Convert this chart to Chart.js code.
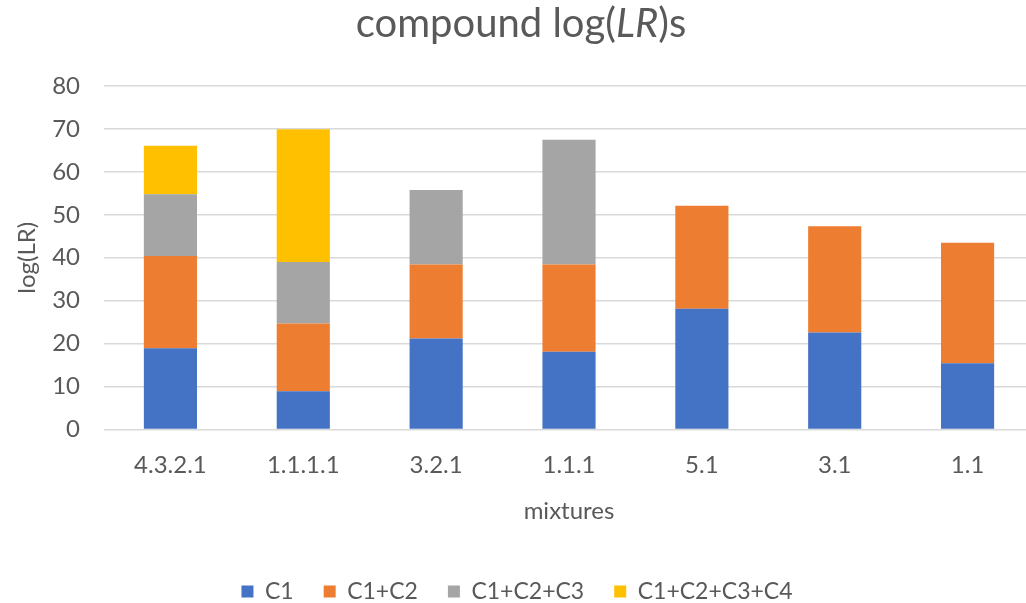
<!DOCTYPE html>
<html>
<head>
<meta charset="utf-8">
<script src="https://cdn.jsdelivr.net/npm/chart.js@4.4.1/dist/chart.umd.min.js"></script>
<style>
  html, body { margin: 0; padding: 0; background: #fff; overflow: hidden; }
  #wrap { position: relative; width: 1042px; height: 613px; }
  #title {
    position: absolute; left: 0; top: 2px; width: 1042px;
    text-align: center; font-family: Lato, sans-serif; font-size: 40px;
    line-height: 1; color: #595959; z-index: 2;
  }
  canvas { position: absolute; left: 0; top: 0; }
</style>
</head>
<body>
<div id="wrap">
  <div id="title">compound log(<i>LR</i>)s</div>
  <canvas id="chart" width="1042" height="613"></canvas>
</div>
<script>
// Mixture labels along the x axis
const mixtures = ['4.3.2.1', '1.1.1.1', '3.2.1', '1.1.1', '5.1', '3.1', '1.1'];

// Stacked segment heights: each step adds the next compound's contribution
const segC1   = [18.9,  8.9, 21.2, 18.1, 28.1, 22.6, 15.4];
const segC2   = [21.5, 15.8, 17.2, 20.3, 24.0, 24.7, 28.1];
const segC3   = [14.4, 14.3, 17.4, 29.1, null, null, null];
const segC4   = [11.3, 30.9, null, null, null, null, null];

const seriesNames = ['C1', 'C1+C2', 'C1+C2+C3', 'C1+C2+C3+C4'];
const seriesColors = ['#4472C4', '#ED7D31', '#A5A5A5', '#FFC000'];

// y-axis range and step
const yMin = 0, yMax = 80, yStep = 10;

const textColor = '#595959';
const fontFamily = 'Lato, sans-serif';

const segments = [segC1, segC2, segC3, segC4];
const datasets = segments.map((vals, i) => ({
  label: seriesNames[i],
  data: vals,
  backgroundColor: seriesColors[i],
  borderWidth: 0,
  categoryPercentage: 0.4,
  barPercentage: 1.0,
  stack: 'total'
}));

new Chart(document.getElementById('chart'), {
  type: 'bar',
  data: { labels: mixtures, datasets },
  options: {
    responsive: false,
    animation: false,
    layout: { padding: { top: 86, right: 8, bottom: 0, left: 0 } },
    plugins: {
      title: { display: false },
      tooltip: { enabled: false },
      legend: {
        position: 'bottom',
        labels: {
          boxWidth: 12, boxHeight: 12, padding: 30,
          color: textColor,
          font: { family: fontFamily, size: 23 }
        }
      }
    },
    scales: {
      x: {
        stacked: true,
        grid: { display: false, drawTicks: false },
        border: { display: false },
        ticks: { color: textColor, font: { family: fontFamily, size: 24 }, padding: 21 },
        title: {
          display: true, text: 'mixtures', color: textColor,
          font: { family: fontFamily, size: 24 }, padding: { top: -3, bottom: 24 }
        }
      },
      y: {
        stacked: true,
        min: yMin, max: yMax,
        afterFit: (scale) => { scale.width = 104; },
        grid: { color: '#D9D9D9', lineWidth: 1.5, drawTicks: false },
        border: { display: false },
        ticks: { stepSize: yStep, color: textColor, font: { family: fontFamily, size: 24 }, padding: 24 },
        title: {
          display: true, text: 'log(LR)', color: textColor,
          font: { family: fontFamily, size: 24 }, padding: { top: 13, bottom: 0 }
        }
      }
    }
  }
});
</script>
</body>
</html>
